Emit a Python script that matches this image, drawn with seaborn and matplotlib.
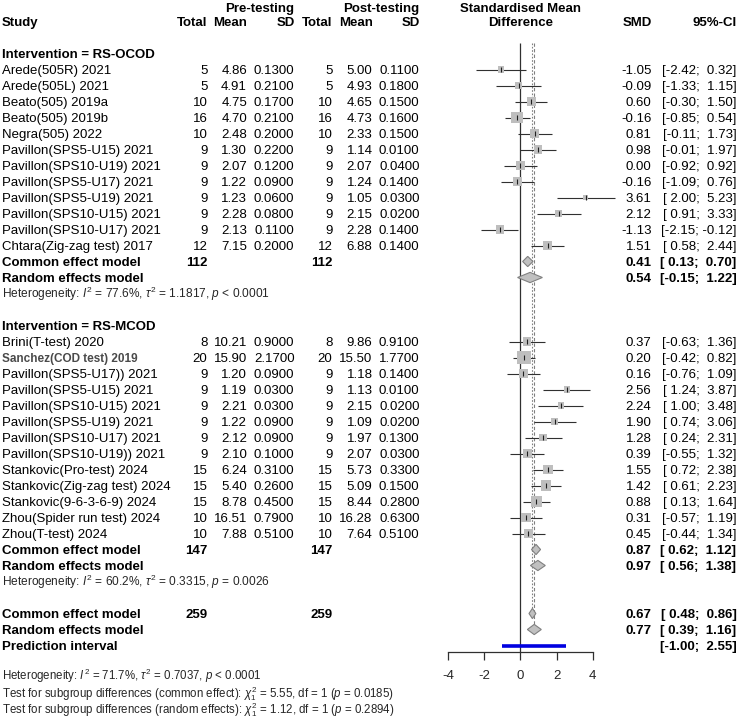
import numpy as np
import seaborn as sns
import matplotlib.pyplot as plt
from matplotlib import transforms
from matplotlib.patches import Polygon

# ---- values ----
ocod_study = ["Arede(505R) 2021", "Arede(505L) 2021", "Beato(505) 2019a", "Beato(505) 2019b",
              "Negra(505) 2022", "Pavillon(SPS5-U15) 2021", "Pavillon(SPS10-U19) 2021",
              "Pavillon(SPS5-U17) 2021", "Pavillon(SPS5-U19) 2021", "Pavillon(SPS10-U15) 2021",
              "Pavillon(SPS10-U17) 2021", "Chtara(Zig-zag test) 2017"]
ocod_pre_n = [5, 5, 10, 16, 10, 9, 9, 9, 9, 9, 9, 12]
ocod_pre_mean = [4.86, 4.91, 4.75, 4.70, 2.48, 1.30, 2.07, 1.22, 1.23, 2.28, 2.13, 7.15]
ocod_pre_sd = [0.13, 0.21, 0.17, 0.21, 0.20, 0.22, 0.12, 0.09, 0.06, 0.08, 0.11, 0.20]
ocod_post_n = [5, 5, 10, 16, 10, 9, 9, 9, 9, 9, 9, 12]
ocod_post_mean = [5.00, 4.93, 4.65, 4.73, 2.33, 1.14, 2.07, 1.24, 1.05, 2.15, 2.28, 6.88]
ocod_post_sd = [0.11, 0.18, 0.15, 0.16, 0.15, 0.01, 0.04, 0.14, 0.03, 0.02, 0.14, 0.14]
ocod_smd = [-1.05, -0.09, 0.60, -0.16, 0.81, 0.98, 0.00, -0.16, 3.61, 2.12, -1.13, 1.51]
ocod_lo = [-2.42, -1.33, -0.30, -0.85, -0.11, -0.01, -0.92, -1.09, 2.00, 0.91, -2.15, 0.58]
ocod_hi = [0.32, 1.15, 1.50, 0.54, 1.73, 1.97, 0.92, 0.76, 5.23, 3.33, -0.12, 2.44]
ocod_common = (0.41, 0.13, 0.70)
ocod_random = (0.54, -0.15, 1.22)
ocod_het = (77.6, 1.1817, "< 0.0001")

mcod_study = ["Brini(T-test) 2020", "Sanchez(COD test) 2019", "Pavillon(SPS5-U17)) 2021",
              "Pavillon(SPS5-U15) 2021", "Pavillon(SPS10-U15) 2021", "Pavillon(SPS5-U19) 2021",
              "Pavillon(SPS10-U17) 2021", "Pavillon(SPS10-U19)) 2021", "Stankovic(Pro-test) 2024",
              "Stankovic(Zig-zag test) 2024", "Stankovic(9-6-3-6-9) 2024",
              "Zhou(Spider run test) 2024", "Zhou(T-test) 2024"]
mcod_pre_n = [8, 20, 9, 9, 9, 9, 9, 9, 15, 15, 15, 10, 10]
mcod_pre_mean = [10.21, 15.90, 1.20, 1.19, 2.21, 1.22, 2.12, 2.10, 6.24, 5.40, 8.78, 16.51, 7.88]
mcod_pre_sd = [0.90, 2.17, 0.09, 0.03, 0.03, 0.09, 0.09, 0.10, 0.31, 0.26, 0.45, 0.79, 0.51]
mcod_post_n = [8, 20, 9, 9, 9, 9, 9, 9, 15, 15, 15, 10, 10]
mcod_post_mean = [9.86, 15.50, 1.18, 1.13, 2.15, 1.09, 1.97, 2.07, 5.73, 5.09, 8.44, 16.28, 7.64]
mcod_post_sd = [0.91, 1.77, 0.14, 0.01, 0.02, 0.02, 0.13, 0.03, 0.33, 0.15, 0.28, 0.63, 0.51]
mcod_smd = [0.37, 0.20, 0.16, 2.56, 2.24, 1.90, 1.28, 0.39, 1.55, 1.42, 0.88, 0.31, 0.45]
mcod_lo = [-0.63, -0.42, -0.76, 1.24, 1.00, 0.74, 0.24, -0.55, 0.72, 0.61, 0.13, -0.57, -0.44]
mcod_hi = [1.36, 0.82, 1.09, 3.87, 3.48, 3.06, 2.31, 1.32, 2.38, 2.23, 1.64, 1.19, 1.34]
mcod_common = (0.87, 0.62, 1.12)
mcod_random = (0.97, 0.56, 1.38)
mcod_het = (60.2, 0.3315, "= 0.0026")

all_common = (0.67, 0.48, 0.86)
all_random = (0.77, 0.39, 1.16)
prediction = (-1.00, 2.55)
all_het = (71.7, 0.7037, "< 0.0001")
subgroup_common = (5.55, 0.0185)
subgroup_random = (1.12, 0.2894)

groups = [("RS-OCOD", ocod_study, ocod_pre_n, ocod_pre_mean, ocod_pre_sd, ocod_post_n,
           ocod_post_mean, ocod_post_sd, ocod_smd, ocod_lo, ocod_hi, ocod_common, ocod_random, ocod_het),
          ("RS-MCOD", mcod_study, mcod_pre_n, mcod_pre_mean, mcod_pre_sd, mcod_post_n,
           mcod_post_mean, mcod_post_sd, mcod_smd, mcod_lo, mcod_hi, mcod_common, mcod_random, mcod_het)]

# ---- style ----
sns.set_theme(style="white")
plt.rcParams['font.family'] = ['Liberation Sans', 'DejaVu Sans']
plt.rcParams['mathtext.fontset'] = 'custom'
plt.rcParams['mathtext.rm'] = 'Liberation Sans'
plt.rcParams['mathtext.it'] = 'Liberation Sans:italic'
plt.rcParams['mathtext.bf'] = 'Liberation Sans:bold'

W, H = 737, 718
FS = 9.5
FS_SMALL = 8.55
X0_PX, PX_PER_UNIT = 520.3, 18.1        # pixel of SMD = 0, pixels per SMD unit
ROW0_PX, ROW_PX = 53.5, 16.0            # pixel of first row, row height

fig = plt.figure(figsize=(W / 100, H / 100), dpi=100)
ax = fig.add_axes([0, 0, 1, 1])
ax.set_xlim(-X0_PX / PX_PER_UNIT, (W - X0_PX) / PX_PER_UNIT)
ax.set_ylim((H - ROW0_PX) / ROW_PX, -ROW0_PX / ROW_PX)
trans = transforms.blended_transform_factory(fig.transFigure, ax.transData)

# column right edges in pixels
COL = dict(study=2, pre_n=207.5, pre_mean=247, pre_sd=294.5, post_n=332.5,
           post_mean=372.5, post_sd=419.5, smd=651.5, ci=736.5)


def txt(px, row, s, ha='right', bold=False, size=FS, color='black'):
    ax.text(px / W, row, s, transform=trans, ha=ha, va='center_baseline', fontsize=size,
            fontweight='bold' if bold else 'normal', color=color)


def small(row, s, size=FS_SMALL):
    # footnote style lines with math, placed on their baseline
    ax.text(COL['study'] / W, row + 0.27, s, transform=trans, ha='left', va='baseline',
            fontsize=size)


def ci_str(lo, hi):
    return f"[{lo:5.2f}; {hi:5.2f}]"


def het_str(i2, tau2, p):
    return rf"Heterogeneity: $I^2$ = {i2:.1f}%, $\tau^2$ = {tau2:.4f}, $p$ {p}"


def diamond(row, est, lo, hi, h=0.32):
    ax.add_patch(Polygon([(lo, row), (est, row - h), (hi, row), (est, row + h)], closed=True,
                         facecolor='#C0C0C0', edgecolor='#808080', lw=0.8, zorder=3))


# headers
txt(COL['study'], -2, "Study", ha='left', bold=True)
txt(COL['pre_n'], -2, "Total", bold=True)
txt(COL['pre_mean'], -2, "Mean", bold=True)
txt(COL['pre_sd'], -2, "SD", bold=True)
txt(COL['pre_sd'], -2.9, "Pre-testing", bold=True)
txt(COL['post_n'], -2, "Total", bold=True)
txt(COL['post_mean'], -2, "Mean", bold=True)
txt(COL['post_sd'], -2, "SD", bold=True)
txt(COL['post_sd'], -2.9, "Post-testing", bold=True)
txt(X0_PX, -2.9, "Standardised Mean", ha='center', bold=True)
txt(X0_PX, -2, "Difference", ha='center', bold=True)
txt(COL['smd'], -2, "SMD", bold=True)
txt(COL['ci'], -2, "95%-CI", bold=True)

# collect study rows for the forest part
rows, smds, los, his = [], [], [], []
row = 0
for (name, study, pre_n, pre_mean, pre_sd, post_n, post_mean, post_sd,
     smd, lo, hi, common, random, het) in groups:
    txt(COL['study'], row, f"Intervention = {name}", ha='left', bold=True)
    row += 1
    for i in range(len(study)):
        if study[i].startswith("Sanchez"):
            txt(COL['study'], row, study[i], ha='left', bold=True, size=8.5, color='#4a4a4a')
        else:
            txt(COL['study'], row, study[i], ha='left')
        txt(COL['pre_n'], row, f"{pre_n[i]}")
        txt(COL['pre_mean'], row, f"{pre_mean[i]:.2f}")
        txt(COL['pre_sd'], row, f"{pre_sd[i]:.4f}")
        txt(COL['post_n'], row, f"{post_n[i]}")
        txt(COL['post_mean'], row, f"{post_mean[i]:.2f}")
        txt(COL['post_sd'], row, f"{post_sd[i]:.4f}")
        txt(COL['smd'], row, f"{smd[i]:.2f}")
        txt(COL['ci'], row, ci_str(lo[i], hi[i]))
        rows.append(row)
        smds.append(smd[i])
        los.append(lo[i])
        his.append(hi[i])
        row += 1
    txt(COL['study'], row, "Common effect model", ha='left', bold=True)
    txt(COL['pre_n'], row, f"{sum(pre_n)}", bold=True)
    txt(COL['post_n'], row, f"{sum(post_n)}", bold=True)
    txt(COL['smd'], row, f"{common[0]:.2f}", bold=True)
    txt(COL['ci'], row, ci_str(common[1], common[2]), bold=True)
    diamond(row, *common)
    row += 1
    txt(COL['study'], row, "Random effects model", ha='left', bold=True)
    txt(COL['smd'], row, f"{random[0]:.2f}", bold=True)
    txt(COL['ci'], row, ci_str(random[1], random[2]), bold=True)
    diamond(row, *random)
    row += 1
    small(row, het_str(*het))
    row += 2

# overall
common_row = row
txt(COL['study'], row, "Common effect model", ha='left', bold=True)
txt(COL['pre_n'], row, f"{sum(ocod_pre_n) + sum(mcod_pre_n)}", bold=True)
txt(COL['post_n'], row, f"{sum(ocod_post_n) + sum(mcod_post_n)}", bold=True)
txt(COL['smd'], row, f"{all_common[0]:.2f}", bold=True)
txt(COL['ci'], row, ci_str(all_common[1], all_common[2]), bold=True)
diamond(row, *all_common)
row += 1
random_row = row
txt(COL['study'], row, "Random effects model", ha='left', bold=True)
txt(COL['smd'], row, f"{all_random[0]:.2f}", bold=True)
txt(COL['ci'], row, ci_str(all_random[1], all_random[2]), bold=True)
diamond(row, *all_random)
row += 1
pred_row = row
txt(COL['study'], row, "Prediction interval", ha='left', bold=True)
txt(COL['ci'], row, ci_str(*prediction), bold=True)
ax.hlines(row, prediction[0], prediction[1], color='#0000E0', lw=2.6, zorder=3)
row += 2
small(row - 0.1, het_str(*all_het), size=8.3)
small(row + 0.95, r"Test for subgroup differences (common effect): $\chi^2_1$ = "
      f"{subgroup_common[0]:.2f}, df = 1 ($p$ = {subgroup_common[1]:.4f})", size=8.3)
small(row + 2.0, r"Test for subgroup differences (random effects): $\chi^2_1$ = "
      f"{subgroup_random[0]:.2f}, df = 1 ($p$ = {subgroup_random[1]:.4f})", size=8.3)

# ---- forest marks ----
rows = np.array(rows, dtype=float)
smds = np.array(smds)
los = np.array(los)
his = np.array(his)
weights = 1.0 / ((his - los) / 3.92) ** 2       # inverse-variance weights from the CIs

top = rows[0] - 1.66
axis_row = pred_row + 0.4
ax.vlines(0, top, axis_row, color='#303030', lw=0.9, zorder=1)
ax.vlines(all_common[0], top, common_row, color='#808080', lw=0.8, linestyles=(0, (1.5, 1.5)), zorder=1)
ax.vlines(all_random[0], top, random_row, color='#808080', lw=0.8, linestyles=(0, (3, 2)), zorder=1)

ax.hlines(rows, los, his, color='#303030', lw=0.8, zorder=2)
side_max = 13.3 * 0.72
sns.scatterplot(x=smds, y=rows, size=weights, sizes=(0, side_max ** 2), size_norm=(0, weights.max()),
                marker='s', color='#BEBEBE', linewidth=0, legend=False, ax=ax, zorder=3)
ax.vlines(smds, rows - 0.15, rows + 0.15, color='#202020', lw=0.8, zorder=4)

# x axis of the forest plot
for s in ['top', 'right', 'left']:
    ax.spines[s].set_visible(False)
ax.spines['bottom'].set_position(('data', axis_row))
ax.spines['bottom'].set_bounds(-4, 4)
ax.spines['bottom'].set_color('#303030')
ax.spines['bottom'].set_linewidth(0.9)
ax.set_xticks([-4, -2, 0, 2, 4])
ax.set_xticklabels(["-4", "-2", "0", "2", "4"])
ax.tick_params(axis='x', direction='out', length=6, width=0.9, color='#303030',
               labelsize=FS, pad=7, bottom=True)
ax.set_yticks([])
ax.set_xlabel("")
ax.set_ylabel("")
ax.grid(False)

fig.savefig("out.png", dpi=100)
